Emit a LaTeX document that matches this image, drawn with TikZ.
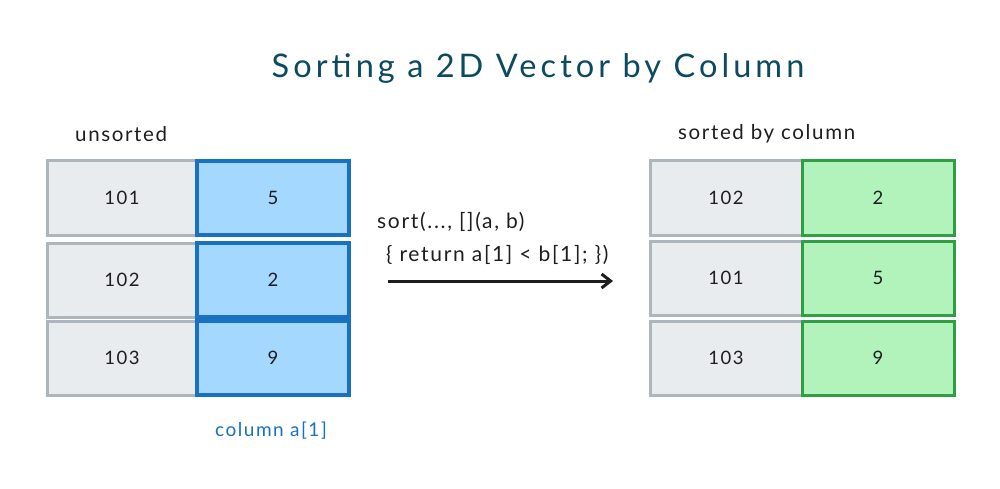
\documentclass[tikz,border=0pt]{standalone}
\usepackage{fontspec}
\setmainfont{Lato}[LetterSpace=8]
\newfontfamily\titlefont{Lato}[LetterSpace=12.5]
\usetikzlibrary{arrows.meta}
\definecolor{grayfill}{HTML}{E9ECEF}
\definecolor{graystroke}{HTML}{ADB5BD}
\definecolor{bluefill}{HTML}{A5D8FF}
\definecolor{bluestroke}{HTML}{1971C2}
\definecolor{greenfill}{HTML}{B2F2BB}
\definecolor{greenstroke}{HTML}{2F9E44}
\definecolor{titlecol}{HTML}{0B4A5F}
\definecolor{inkcol}{HTML}{1E1E1E}
\tikzset{
  cell/.style={minimum height=74pt, inner sep=0pt, font=\fontsize{18.5}{22}\selectfont, text=inkcol},
  graycell/.style={cell, draw=graystroke, fill=grayfill, line width=3pt, minimum width=150pt},
  bluecell/.style={cell, draw=bluestroke, fill=bluefill, line width=3.5pt, minimum width=152pt},
  greencell/.style={cell, draw=greenstroke, fill=greenfill, line width=3pt, minimum width=152pt},
  lbl/.style={inner sep=0pt, font=\fontsize{20.5}{24}\selectfont, text=inkcol},
  codetxt/.style={inner sep=0pt, anchor=west, font=\fontsize{21}{24}\selectfont, text=inkcol},
  arr/.style={line width=3pt, draw=inkcol, -{Straight Barb[length=9pt,width=14pt,line width=3pt]}}
}
\begin{document}
\begin{tikzpicture}[x=1pt,y=-1pt]
\useasboundingbox[fill=white] (0,0) rectangle (1000,489);
% title
\node[inner sep=0pt, font=\titlefont\fontsize{32.5}{38}\selectfont, text=titlecol] (title) at (538,68) {Sorting a 2D Vector by Column};
% left table
\node[lbl, anchor=west] (unsorted) at (75,134) {unsorted};
\node[graycell] (l1) at (122,198) {101};
\node[graycell] (l2) at (122,280) {102};
\node[graycell] (l3) at (122,358) {103};
\node[bluecell] (b1) at (273,198) {5};
\node[bluecell] (b2) at (273,280) {2};
\node[bluecell] (b3) at (273,358) {9};
\node[inner sep=0pt, font=\fontsize{19}{22}\selectfont, text=bluestroke] (collbl) at (271,431) {column a[1]};
% right table
\node[lbl, anchor=west] (sorted) at (678,134) {sorted by column};
\node[graycell, minimum width=152pt] (r1) at (726,198) {102};
\node[graycell, minimum width=152pt] (r2) at (726,278) {101};
\node[graycell, minimum width=152pt] (r3) at (726,358) {103};
\node[greencell] (g1) at (878,198) {2};
\node[greencell] (g2) at (878,278) {5};
\node[greencell] (g3) at (878,358) {9};
% code and arrow
\node[codetxt] (code1) at (377,222) {sort(..., [](a, b)};
\node[codetxt] (code2) at (386,255) {\{ return a[1] < b[1]; \})};
\coordinate (as) at (388,281);
\coordinate (ae) at (613,281);
\draw[arr] (as) -- (ae);
\end{tikzpicture}
\end{document}
